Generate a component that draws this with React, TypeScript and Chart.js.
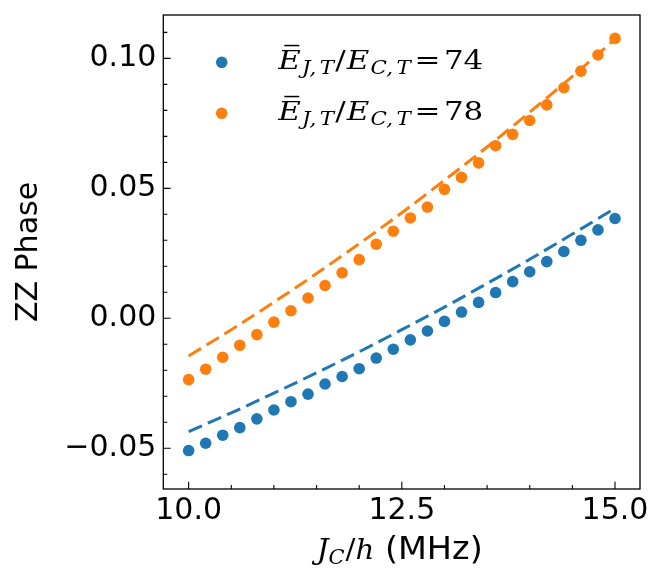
import React, { useEffect, useRef } from 'react';
import { Chart, registerables } from 'chart.js';

Chart.register(...registerables);

// J_C/h sweep (MHz)
const couplingMHz = [
  10.0, 10.2, 10.4, 10.6, 10.8, 11.0, 11.2, 11.4, 11.6, 11.8, 12.0, 12.2, 12.4,
  12.6, 12.8, 13.0, 13.2, 13.4, 13.6, 13.8, 14.0, 14.2, 14.4, 14.6, 14.8, 15.0,
];
// simulated ZZ phase, EJ/EC = 74 and 78
const phase74 = [
  -0.0509, -0.0481, -0.0450, -0.0421, -0.0387, -0.0353, -0.0321, -0.0292, -0.0253,
  -0.0224, -0.0194, -0.0153, -0.0119, -0.0083, -0.0049, -0.0012, 0.0024, 0.0061,
  0.0099, 0.0141, 0.0179, 0.0218, 0.0257, 0.0300, 0.0340, 0.0384,
];
const phase78 = [
  -0.0236, -0.0196, -0.0150, -0.0104, -0.0063, -0.0015, 0.0029, 0.0078, 0.0126,
  0.0175, 0.0226, 0.0285, 0.0335, 0.0386, 0.0428, 0.0496, 0.0542, 0.0598, 0.0664,
  0.0708, 0.0761, 0.0821, 0.0887, 0.0951, 0.1013, 0.1077,
];
// analytic model (dashed)
const modelMHz = [10.0, 10.5, 11.0, 11.5, 12.0, 12.5, 13.0, 13.5, 14.0, 14.5, 15.0];
const model74 = [-0.0436, -0.0364, -0.0288, -0.0210, -0.0129, -0.0044, 0.0043, 0.0134, 0.0227, 0.0324, 0.0423];
const model78 = [-0.0145, -0.0044, 0.0062, 0.0172, 0.0287, 0.0406, 0.0531, 0.0659, 0.0793, 0.0931, 0.1074];

const ratioLabels = ['74', '78'];
const colors = ['#1f77b4', '#ff7f0e'];

const xTicks = [10.0, 12.5, 15.0];
const yTicks = [-0.05, 0.0, 0.05, 0.1];
const xMinorStep = 0.5;
const yMinorStep = 0.01;

const SERIF = '"DejaVu Serif", serif';
const SANS = '"DejaVu Sans", sans-serif';

const toPoints = (xs: number[], ys: number[]) => xs.map((x, i) => ({ x, y: ys[i] }));

type Piece = { t: string; f: string; dy: number; gap: number };

function drawPieces(ctx: CanvasRenderingContext2D, x: number, y: number, parts: Piece[], width?: number) {
  let total = 0;
  parts.forEach((p) => {
    ctx.font = p.f;
    total += ctx.measureText(p.t).width + p.gap;
  });
  const k = width ? width / total : 1;
  ctx.save();
  ctx.translate(x, y);
  ctx.scale(k, 1);
  ctx.textAlign = 'left';
  ctx.textBaseline = 'alphabetic';
  let cx = 0;
  parts.forEach((p) => {
    ctx.font = p.f;
    ctx.fillText(p.t, cx, p.dy);
    cx += ctx.measureText(p.t).width + p.gap;
  });
  ctx.restore();
  return total * k;
}

// E-bar_{J,T} / E_{C,T} = value
function drawRatioLabel(ctx: CanvasRenderingContext2D, x: number, y: number, value: string) {
  const big = `italic 26px ${SERIF}`;
  const up = `26px ${SERIF}`;
  const sub = `italic 18px ${SERIF}`;
  const parts: Piece[] = [
    { t: 'E', f: big, dy: 0, gap: 1 },
    { t: 'J,', f: sub, dy: 5, gap: 3 },
    { t: 'T', f: sub, dy: 5, gap: 1 },
    { t: '/', f: up, dy: 0, gap: 1 },
    { t: 'E', f: big, dy: 0, gap: 1 },
    { t: 'C,', f: sub, dy: 5, gap: 3 },
    { t: 'T', f: sub, dy: 5, gap: 3 },
    { t: '=', f: up, dy: 0, gap: 3 },
    { t: value, f: up, dy: 0, gap: 0 },
  ];
  drawPieces(ctx, x, y, parts, 205);
  // bar over the first E
  ctx.fillRect(x + 6, y - 24.5, 15, 1.5);
}

const axesDecor = {
  id: 'axesDecor',
  afterDraw(chart: any) {
    const { ctx, chartArea: a, scales } = chart;
    const xs = scales.x;
    const ys = scales.y;
    ctx.save();
    ctx.strokeStyle = '#000';
    ctx.lineWidth = 1.3;
    ctx.strokeRect(a.left, a.top, a.right - a.left, a.bottom - a.top);

    // inward ticks, left and bottom
    ctx.lineWidth = 1.1;
    ctx.beginPath();
    for (let v = Math.ceil(xs.min / xMinorStep) * xMinorStep; v <= xs.max; v += xMinorStep) {
      const major = xTicks.some((t) => Math.abs(t - v) < 1e-6);
      const px = xs.getPixelForValue(v);
      ctx.moveTo(px, a.bottom);
      ctx.lineTo(px, a.bottom - (major ? 7.3 : 4));
    }
    for (let v = Math.ceil(ys.min / yMinorStep) * yMinorStep; v <= ys.max; v += yMinorStep) {
      const major = yTicks.some((t) => Math.abs(t - v) < 1e-6);
      const py = ys.getPixelForValue(v);
      ctx.moveTo(a.left, py);
      ctx.lineTo(a.left + (major ? 7.3 : 4), py);
    }
    ctx.stroke();

    // legend
    chart.data.datasets.slice(0, 2).forEach((ds: any, i: number) => {
      const ly = a.top + 47.3 + i * 51;
      ctx.fillStyle = ds.backgroundColor;
      ctx.beginPath();
      ctx.arc(a.left + 58.4, ly, 5.8, 0, Math.PI * 2);
      ctx.fill();
      ctx.fillStyle = '#000';
      drawRatioLabel(ctx, a.left + 115, ly + 7, ratioLabels[i]);
    });

    // x title: J_C/h (MHz)
    ctx.fillStyle = '#000';
    const titleParts: Piece[] = [
      { t: 'J', f: `italic 28px ${SERIF}`, dy: 0, gap: 0 },
      { t: 'C', f: `italic 20px ${SERIF}`, dy: 5, gap: 1 },
      { t: '/', f: `28px ${SERIF}`, dy: 0, gap: 0 },
      { t: 'h', f: `italic 28px ${SERIF}`, dy: 0, gap: 0 },
      { t: ' (MHz)', f: `32px ${SANS}`, dy: 0, gap: 0 },
    ];
    drawPieces(ctx, 316.7, 559.3, titleParts, 166);
    ctx.restore();
  },
};

const App: React.FC = () => {
  const canvasRef = useRef<HTMLCanvasElement>(null);
  const chartRef = useRef<Chart | null>(null);

  useEffect(() => {
    if (!canvasRef.current) return;
    if (chartRef.current) chartRef.current.destroy();

    chartRef.current = new Chart(canvasRef.current, {
      type: 'scatter',
      data: {
        datasets: [
          {
            label: ratioLabels[0],
            data: toPoints(couplingMHz, phase74),
            backgroundColor: colors[0],
            pointRadius: 5.8,
            borderWidth: 0,
          },
          {
            label: ratioLabels[1],
            data: toPoints(couplingMHz, phase78),
            backgroundColor: colors[1],
            pointRadius: 5.8,
            borderWidth: 0,
          },
          {
            type: 'line',
            label: 'model ' + ratioLabels[0],
            data: toPoints(modelMHz, model74),
            borderColor: colors[0],
            borderWidth: 3,
            borderDash: [14.5, 6.5],
            pointRadius: 0,
            fill: false,
            cubicInterpolationMode: 'monotone',
          },
          {
            type: 'line',
            label: 'model ' + ratioLabels[1],
            data: toPoints(modelMHz, model78),
            borderColor: colors[1],
            borderWidth: 3,
            borderDash: [14.5, 6.5],
            pointRadius: 0,
            fill: false,
            cubicInterpolationMode: 'monotone',
          },
        ] as any,
      },
      options: {
        animation: false,
        responsive: true,
        maintainAspectRatio: false,
        layout: { padding: { top: 15, right: 24, left: 0, bottom: 0 } },
        plugins: { legend: { display: false }, tooltip: { enabled: false } },
        scales: {
          x: {
            type: 'linear',
            min: 9.703,
            max: 15.293,
            grid: { display: false, drawTicks: false },
            border: { display: false },
            afterBuildTicks: (s: any) => {
              s.ticks = xTicks.map((value) => ({ value }));
            },
            afterFit: (s: any) => {
              s.height = 95;
              s.paddingLeft = 0;
              s.paddingRight = 0;
            },
            ticks: {
              padding: 4,
              color: '#000',
              font: { family: SANS, size: 30 },
              callback: (v: any) => Number(v).toFixed(1),
            },
          },
          y: {
            type: 'linear',
            min: -0.0657,
            max: 0.1167,
            grid: { display: false, drawTicks: false },
            border: { display: false },
            afterBuildTicks: (s: any) => {
              s.ticks = yTicks.map((value) => ({ value }));
            },
            afterFit: (s: any) => {
              s.width = 163.3;
              s.paddingTop = 0;
              s.paddingBottom = 0;
            },
            title: {
              display: true,
              text: 'ZZ Phase',
              color: '#000',
              font: { family: SANS, size: 30 },
              padding: { top: 11.5, bottom: 0 },
            },
            ticks: {
              padding: 7,
              color: '#000',
              font: { family: SANS, size: 30 },
              callback: (v: any) => {
                const s = Math.abs(Number(v)).toFixed(2);
                return Number(v) < -1e-9 ? '\u2212' + s : s;
              },
            },
          },
        },
      },
      plugins: [axesDecor],
    });

    return () => {
      if (chartRef.current) {
        chartRef.current.destroy();
        chartRef.current = null;
      }
    };
  }, []);

  return (
    <div style={{ position: 'absolute', left: 0, top: 0, width: 664, height: 584, background: '#fff' }}>
      <canvas ref={canvasRef}></canvas>
    </div>
  );
};

export default App;
